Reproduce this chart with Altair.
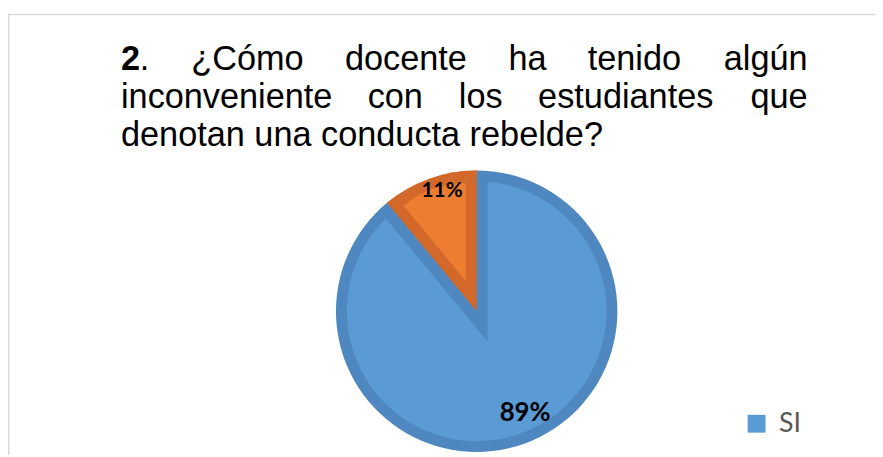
import altair as alt
import pandas as pd

# ---------------- data ----------------
categories = ["SI", "NO"]
values = [89, 11]
value_labels = ["89%", "11%"]

title_number = "2"
title_line1 = ["¿Cómo", "docente", "ha", "tenido", "algún"]
title_line2 = ["inconveniente", "con", "los", "estudiantes", "que"]
title_line3 = "denotan una conducta rebelde?"

# ---------------- style / layout ----------------
LIGHT = ["#5B9BD5", "#ED7D31"]
DARK = ["#4F87C0", "#D2692B"]
CX, CY = 473, 304      # pie centre (plot px)
R = 142                # pie radius
B = 11                 # inner border width
W, H = 875, 449
TFONT = "Liberation Sans, Arial, sans-serif"
TSIZE = 34.6
LFONT = "Lato, Carlito, Calibri, sans-serif"

df = pd.DataFrame({"cat": categories, "value": values, "label": value_labels,
                   "idx": list(range(len(categories)))})

dark_expr = "'" + DARK[-1] + "'"
for c, col in reversed(list(zip(categories[:-1], DARK[:-1]))):
    dark_expr = f"datum.cat == '{c}' ? '{col}' : " + dark_expr

base = (
    alt.Chart(df)
    .transform_joinaggregate(total="sum(value)")
    .transform_window(cum="sum(value)", sort=[alt.SortField("idx")], frame=[None, 0])
    .transform_calculate(a1="2*PI*datum.cum/datum.total",
                         a0="2*PI*(datum.cum-datum.value)/datum.total")
    .transform_calculate(mid="(datum.a0+datum.a1)/2", half="(datum.a1-datum.a0)/2")
    .transform_calculate(h=f"{B}/sin(datum.half)", dark=dark_expr,
                         rl="datum.half > PI/2 ? 114 : 126",
                         la="datum.half > PI/2 ? datum.mid - 0.098 : datum.mid + 0.065")
    .transform_calculate(ox=f"{CX}+datum.h*sin(datum.mid)",
                         oy=f"{CY}-datum.h*cos(datum.mid)",
                         lx=f"{CX}+datum.rl*sin(datum.la)",
                         ly=f"{CY}-datum.rl*cos(datum.la)")
)

legend = alt.Legend(orient="none", legendX=742, legendY=404, title=None,
                    symbolType="square", symbolSize=324, symbolStrokeWidth=0,
                    symbolOpacity=1, labelFont=LFONT, labelFontSize=27,
                    labelColor="#595959", labelOffset=9, rowPadding=30,
                    padding=0, direction="vertical")
color_enc = alt.Color("cat:N", scale=alt.Scale(domain=categories, range=LIGHT), legend=legend)

theta = alt.Theta("a0:Q", scale=None, stack=None)
theta2 = alt.Theta2("a1:Q")

dark_all = base.mark_arc(radius=R).encode(
    x=alt.value(CX), y=alt.value(CY), theta=theta, theta2=theta2,
    fill=alt.Fill("dark:N", scale=None))

light_reflex = base.transform_filter("datum.half > PI/2").mark_arc(radius=R - B).encode(
    x=alt.value(CX), y=alt.value(CY), theta=theta, theta2=theta2, color=color_enc)

notch = (base.transform_filter("datum.half > PI/2")
         .transform_calculate(n0="datum.a1", n1="datum.a0+2*PI", nr=f"{R - B / 2}+datum.h")
         .mark_arc().encode(
             x=alt.X("ox:Q", scale=None), y=alt.Y("oy:Q", scale=None),
             theta=alt.Theta("n0:Q", scale=None, stack=None), theta2=alt.Theta2("n1:Q"),
             radius=alt.Radius("nr:Q", scale=None),
             fill=alt.Fill("dark:N", scale=None)))

dark_convex = base.transform_filter("datum.half <= PI/2").mark_arc(radius=R).encode(
    x=alt.value(CX), y=alt.value(CY), theta=theta, theta2=theta2,
    fill=alt.Fill("dark:N", scale=None))

light_convex = (base.transform_filter("datum.half <= PI/2")
                .transform_calculate(ir=f"{R - B}-datum.h")
                .mark_arc().encode(
                    x=alt.X("ox:Q", scale=None), y=alt.Y("oy:Q", scale=None),
                    theta=theta, theta2=theta2,
                    radius=alt.Radius("ir:Q", scale=None), color=color_enc))

labels = base.mark_text(font=LFONT, fontWeight="bold", color="#000000",
                        baseline="middle", align="center").encode(
    x=alt.X("lx:Q", scale=None), y=alt.Y("ly:Q", scale=None), text="label:N",
    size=alt.condition("datum.half > PI/2", alt.value(26), alt.value(21)))

one = pd.DataFrame({"t": [""]})


def word(txt, x, y, align="left", weight="normal"):
    return alt.Chart(one).mark_text(text=txt, font=TFONT, fontSize=TSIZE, fontWeight=weight,
                                    color="#000000", align=align, baseline="alphabetic").encode(
        x=alt.value(x), y=alt.value(y))


Y1, Y2, Y3 = 61, 99, 137
title_layers = [word(title_number, 114, Y1, weight="bold"), word(".", 133, Y1)]
for w, x in zip(title_line1, [185, 340, 505, 585]):
    title_layers.append(word(w, x, Y1))
title_layers.append(word(title_line1[-1], 807, Y1, align="right"))
for w, x in zip(title_line2, [114, 363, 455, 535]):
    title_layers.append(word(w, x, Y2))
title_layers.append(word(title_line2[-1], 807, Y2, align="right"))
title_layers.append(word(title_line3, 114, Y3))

border_top = alt.Chart(one).mark_rule(color="#D9D9D9", strokeWidth=1.5).encode(
    x=alt.value(0), x2=alt.value(W), y=alt.value(4.5))
border_left = alt.Chart(one).mark_rule(color="#D9D9D9", strokeWidth=1.5).encode(
    x=alt.value(0.75), y=alt.value(4), y2=alt.value(H))

chart = alt.layer(
    border_top, border_left,
    dark_all, light_reflex, notch, dark_convex, light_convex, labels,
    *title_layers,
).properties(
    width=W, height=H, padding=0,
    autosize=alt.AutoSizeParams(type="none"),
).configure_view(stroke=None)

chart.save("out.html", embed_options={"renderer": "svg", "actions": False})
